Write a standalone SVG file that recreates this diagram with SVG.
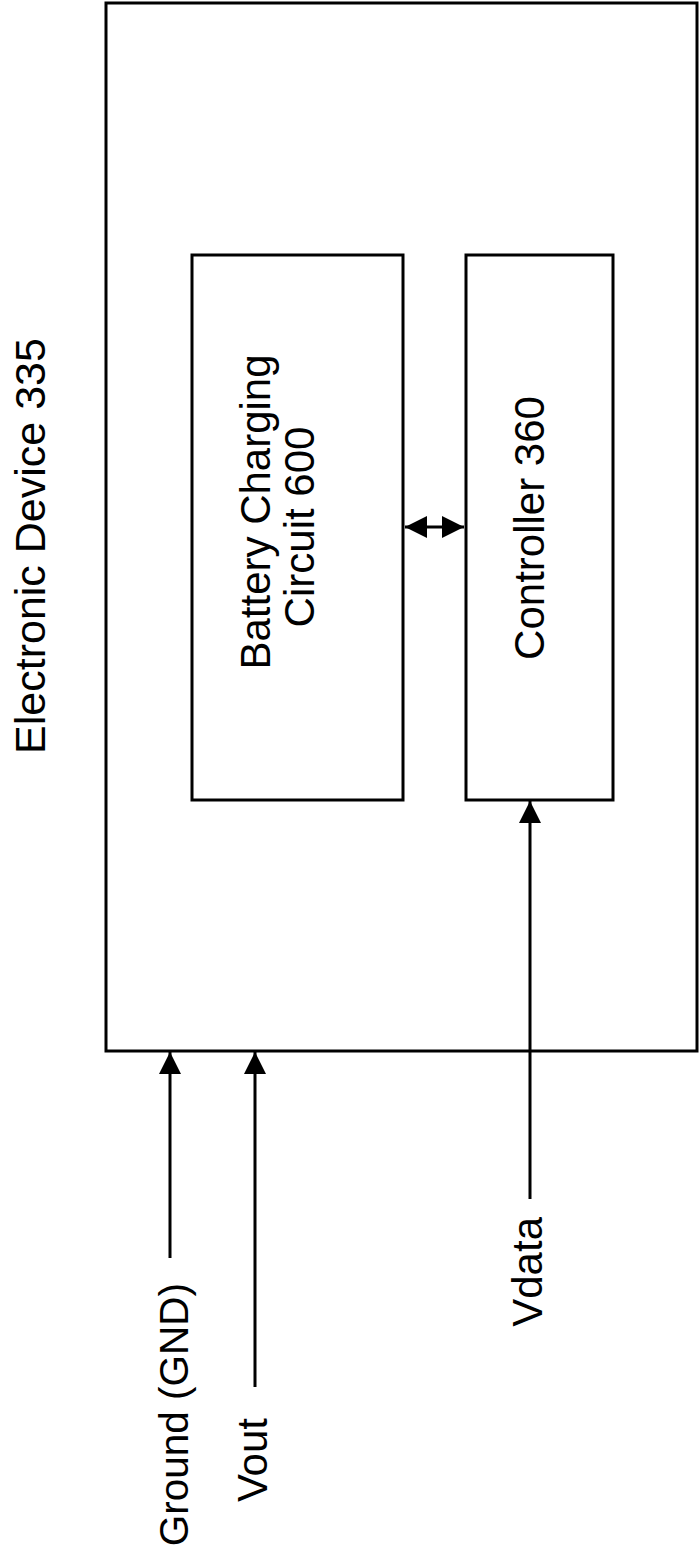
<svg xmlns="http://www.w3.org/2000/svg" width="700" height="1549" viewBox="0 0 700 1549">
<style>
.box{fill:#fff;stroke:#000;stroke-width:3}
.ln{stroke:#000;stroke-width:3;fill:none}
.t{font-family:"Liberation Sans",Arial,sans-serif;font-size:42px;fill:#000}
</style>
<defs>
<marker id="ah" markerUnits="userSpaceOnUse" markerWidth="22" markerHeight="22" viewBox="0 0 20 20" refX="20" refY="10" orient="auto-start-reverse">
<path d="M0,0 L20,10 L0,20 Z" fill="#000"/>
</marker>
</defs>
<rect width="700" height="1549" fill="#fff"/>
<g id="device">
<rect class="box" x="106" y="3" width="591" height="1048"/>
<text class="t" transform="translate(45,546) rotate(-90)" text-anchor="middle" style="font-size:43px">Electronic Device 335</text>
</g>
<g id="battery">
<rect class="box" x="192" y="255" width="211" height="545"/>
<text class="t" transform="translate(270,512) rotate(-90)" text-anchor="middle">Battery Charging</text>
<text class="t" transform="translate(314,527) rotate(-90)" text-anchor="middle">Circuit 600</text>
</g>
<g id="controller">
<rect class="box" x="466" y="255" width="147" height="545"/>
<text class="t" transform="translate(544,528) rotate(-90)" text-anchor="middle">Controller 360</text>
</g>
<g id="labels">
<text class="t" transform="translate(188,1283) rotate(-90)" text-anchor="end" style="font-size:40.5px">Ground (GND)</text>
<text class="t" transform="translate(267,1418) rotate(-90)" text-anchor="end">Vout</text>
<text class="t" transform="translate(542,1217) rotate(-90)" text-anchor="end">Vdata</text>
</g>
<g id="connectors">
<line class="ln" x1="405" y1="527" x2="464" y2="527" marker-start="url(#ah)" marker-end="url(#ah)"/>
<line class="ln" x1="530" y1="1199" x2="530" y2="801" marker-end="url(#ah)"/>
<line class="ln" x1="170" y1="1258" x2="170" y2="1052" marker-end="url(#ah)"/>
<line class="ln" x1="255" y1="1387" x2="255" y2="1052" marker-end="url(#ah)"/>
</g>
</svg>
